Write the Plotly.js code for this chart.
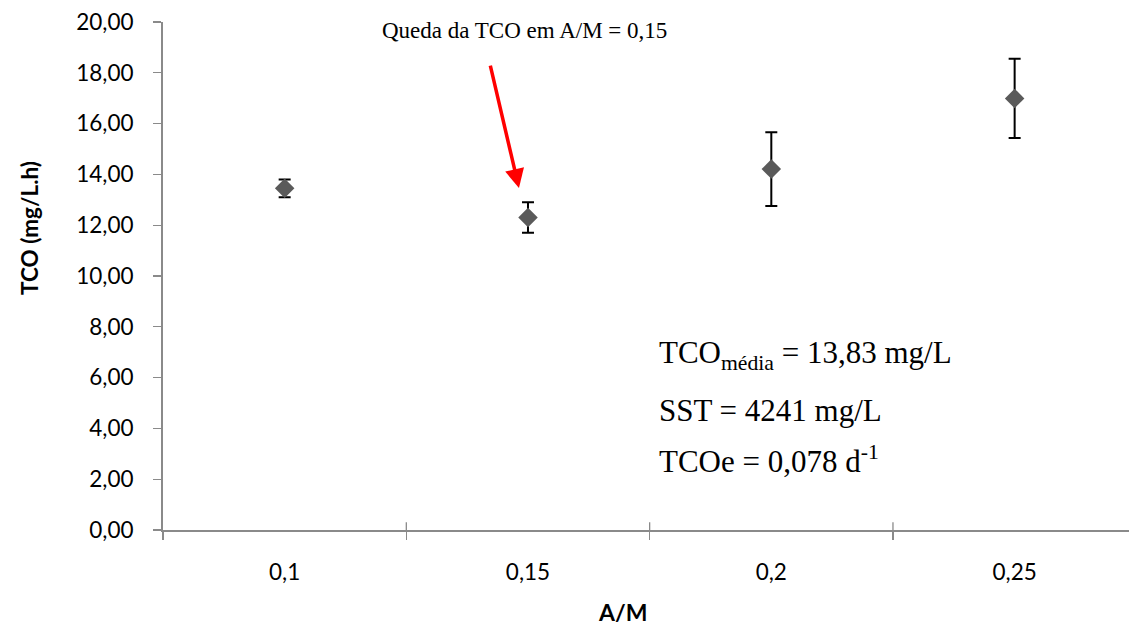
<!DOCTYPE html>
<html>
<head>
<meta charset="utf-8">
<script src="https://cdn.plot.ly/plotly-3.0.1.min.js"></script>
<style>
  html, body { margin: 0; padding: 0; background: #fff; }
  #chart { width: 1129px; height: 625px; }
</style>
</head>
<body>
<div id="chart"></div>
<script>
// Oxygen uptake rate (TCO) against food/microorganism ratio (A/M)
const categories = ["0,1", "0,15", "0,2", "0,25"];
const tcoValues = [13.45, 12.30, 14.21, 16.99];
const tcoErrors = [0.35, 0.60, 1.45, 1.56];

const yTickVals = [0, 2, 4, 6, 8, 10, 12, 14, 16, 18, 20];
const yTickText = ["0,00", "2,00", "4,00", "6,00", "8,00", "10,00", "12,00", "14,00", "16,00", "18,00", "20,00"];

const axisGray = "#8a8a8a";
const sansFont = "Lato, 'Open Sans', sans-serif";
const serifFont = "'Liberation Serif', 'Times New Roman', serif";

const trace = {
  type: "scatter",
  mode: "markers",
  x: categories,
  y: tcoValues,
  marker: { symbol: "diamond", size: 15, color: "#5a5a5a" },
  error_y: {
    type: "data",
    array: tcoErrors,
    visible: true,
    color: "#000000",
    thickness: 2,
    width: 6
  },
  hoverinfo: "x+y"
};

// inner halves of the crossing category-boundary ticks
const innerTicks = [0.5, 1.5, 2.5].map(b => ({
  type: "line", xref: "x", yref: "y",
  x0: b, x1: b, y0: 0, y1: 0.31,
  line: { color: axisGray, width: 1.3 }
}));

const layout = {
  width: 1129,
  height: 625,
  margin: { l: 163, r: 0, t: 22, b: 95 },
  paper_bgcolor: "#ffffff",
  plot_bgcolor: "#ffffff",
  showlegend: false,
  xaxis: {
    type: "category",
    categoryorder: "array",
    categoryarray: categories,
    range: [-0.5, 3.47],
    showgrid: false,
    zeroline: false,
    showline: true,
    linecolor: axisGray,
    linewidth: 2,
    ticks: "outside",
    tickson: "boundaries",
    ticklen: 8,
    tickwidth: 1.3,
    tickcolor: axisGray,
    ticklabelstandoff: 21,
    tickfont: { family: sansFont, size: 22.5, color: "#000" }
  },
  yaxis: {
    range: [0, 20],
    tickvals: yTickVals,
    ticktext: yTickText,
    showgrid: false,
    zeroline: false,
    showline: true,
    linecolor: axisGray,
    linewidth: 2,
    ticks: "outside",
    ticklen: 8,
    tickwidth: 1.3,
    tickcolor: axisGray,
    ticklabelstandoff: 15,
    tickfont: { family: sansFont, size: 22.5, color: "#000" }
  },
  shapes: innerTicks,
  annotations: [
    {
      xref: "paper", yref: "paper", x: -0.1377, y: 0.5945,
      text: "<b>TCO (mg/L.h)</b>", textangle: -90, showarrow: false,
      xanchor: "center", yanchor: "middle",
      font: { family: sansFont, size: 22.5, color: "#000" }
    },
    {
      xref: "paper", yref: "paper", x: 0.4752, y: -0.1614,
      text: "<b>A/M</b>", showarrow: false,
      xanchor: "center", yanchor: "middle",
      font: { family: sansFont, size: 23, color: "#000" }
    },
    {
      xref: "paper", yref: "paper", x: 0.3747, y: 0.984,
      text: "Queda da TCO em A/M = 0,15", showarrow: false,
      xanchor: "center", yanchor: "middle",
      font: { family: serifFont, size: 23, color: "#000" }
    },
    {
      xref: "x", yref: "y", x: 0.963, y: 13.46,
      ax: -29, ay: -124, axref: "pixel", ayref: "pixel",
      text: "", showarrow: true,
      arrowcolor: "#ff0000", arrowwidth: 3.5, arrowhead: 2, arrowsize: 1.1
    },
    {
      xref: "paper", yref: "paper", x: 0.5114, y: 0.3445,
      text: "TCO<sub>média</sub> = 13,83 mg/L", showarrow: false,
      xanchor: "left", yanchor: "middle", align: "left",
      font: { family: serifFont, size: 31, color: "#000" }
    },
    {
      xref: "paper", yref: "paper", x: 0.5114, y: 0.2362,
      text: "SST = 4241 mg/L", showarrow: false,
      xanchor: "left", yanchor: "middle", align: "left",
      font: { family: serifFont, size: 31, color: "#000" }
    },
    {
      xref: "paper", yref: "paper", x: 0.5114, y: 0.1378,
      text: "TCOe = 0,078 d<sup>-1</sup>", showarrow: false,
      xanchor: "left", yanchor: "middle", align: "left",
      font: { family: serifFont, size: 31, color: "#000" }
    }
  ]
};

Plotly.newPlot("chart", [trace], layout, { displayModeBar: false, staticPlot: true });
</script>
</body>
</html>
